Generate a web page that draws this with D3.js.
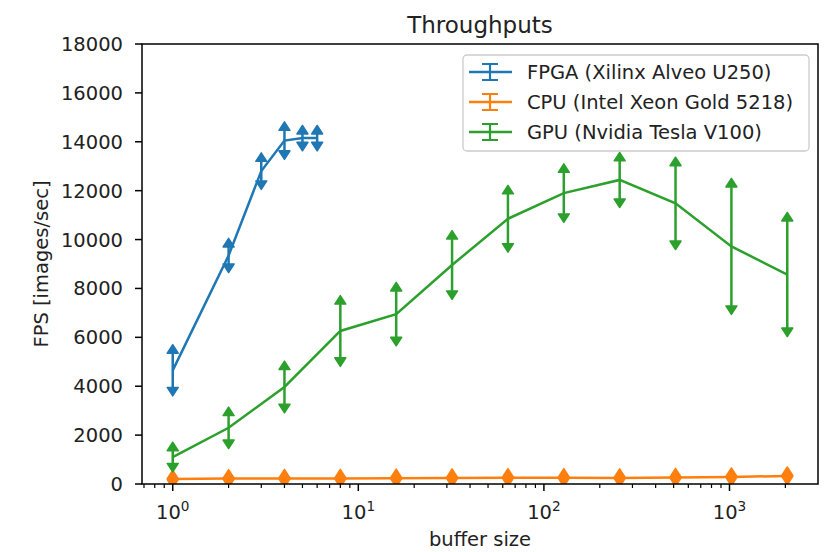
<!DOCTYPE html>
<html>
<head>
<meta charset="utf-8">
<script src="https://cdn.jsdelivr.net/npm/d3@7"></script>
<style>
body { margin: 0; background: #fff; }
svg { font-family: "DejaVu Sans", sans-serif; }
</style>
</head>
<body>
<svg id="chart" width="824" height="552"></svg>
<script>
// values
var fpgaX = [1, 2, 3, 4, 5, 6];
var fpgaY = [4650, 9350, 12800, 14050, 14150, 14150];
var fpgaErr = [700, 350, 400, 420, 170, 170];

var bufX = [1, 2, 4, 8, 16, 32, 64, 128, 256, 512, 1024, 2048];
var cpuY = [200, 220, 230, 230, 240, 250, 260, 260, 250, 270, 290, 330];
var cpuErr = [20, 20, 20, 20, 20, 20, 20, 20, 20, 20, 20, 20];
var gpuY = [1100, 2300, 3970, 6260, 6950, 8960, 10850, 11900, 12440, 11480, 9720, 8570];
var gpuErr = [260, 500, 710, 1100, 950, 1060, 1020, 850, 780, 1540, 2435, 2190];

var yTicks = [0, 2000, 4000, 6000, 8000, 10000, 12000, 14000, 16000, 18000];
var xTicks = [1, 10, 100, 1000];
var xTickExp = ["0", "1", "2", "3"];
var seriesNames = ["FPGA (Xilinx Alveo U250)", "CPU (Intel Xeon Gold 5218)", "GPU (Nvidia Tesla V100)"];
var seriesColors = ["#1f77b4", "#ff7f0e", "#2ca02c"];

var margin = {top: 44, left: 142, right: 6, bottom: 68};
var width = 824 - margin.left - margin.right, height = 552 - margin.top - margin.bottom;
var fs = 19.5;

var svg = d3.select("#chart");
var g = svg.append("g").attr("transform", "translate(" + margin.left + "," + margin.top + ")");

// matplotlib-like 5% margins in log space
var lo = Math.log10(1), hi = Math.log10(2048), pad = (hi - lo) * 0.05;
var x = d3.scaleLog().domain([Math.pow(10, lo - pad), Math.pow(10, hi + pad)]).range([0, width]);
var y = d3.scaleLinear().domain([0, 18000]).range([height, 0]);

g.append("clipPath").attr("id", "clip")
	.append("rect").attr("width", width).attr("height", height);

var series = [
	{xs: fpgaX, ys: fpgaY, err: fpgaErr},
	{xs: bufX, ys: cpuY, err: cpuErr},
	{xs: bufX, ys: gpuY, err: gpuErr}
];

var plot = g.append("g").attr("clip-path", "url(#clip)");
var line = d3.line().x(function(d){ return x(d.x); }).y(function(d){ return y(d.y); });
var cw = 5.5, ch = 8.5;

series.forEach(function(s, i){
	var pts = s.xs.map(function(v, j){ return {x: v, y: s.ys[j], e: s.err[j]}; });
	var col = seriesColors[i];
	var sg = plot.append("g");
	sg.append("path").datum(pts)
		.attr("d", line)
		.attr("fill", "none")
		.attr("stroke", col)
		.attr("stroke-width", 2.5);
	sg.selectAll("line.bar").data(pts).enter().append("line")
		.attr("class", "bar")
		.attr("x1", function(d){ return x(d.x); })
		.attr("x2", function(d){ return x(d.x); })
		.attr("y1", function(d){ return y(d.y + d.e); })
		.attr("y2", function(d){ return y(d.y - d.e); })
		.attr("stroke", col)
		.attr("stroke-width", 2.5);
	// up caret at the top end, down caret at the bottom end
	sg.selectAll("path.up").data(pts).enter().append("path")
		.attr("class", "up")
		.attr("d", function(d){
			var px = x(d.x), py = y(d.y + d.e);
			return "M" + (px - cw) + "," + py + "L" + px + "," + (py - ch) + "L" + (px + cw) + "," + py + "Z";
		})
		.attr("fill", col).attr("stroke", col).attr("stroke-width", 1.5).attr("stroke-linejoin", "round");
	sg.selectAll("path.down").data(pts).enter().append("path")
		.attr("class", "down")
		.attr("d", function(d){
			var px = x(d.x), py = y(d.y - d.e);
			return "M" + (px - cw) + "," + py + "L" + px + "," + (py + ch) + "L" + (px + cw) + "," + py + "Z";
		})
		.attr("fill", col).attr("stroke", col).attr("stroke-width", 1.5).attr("stroke-linejoin", "round");
});

// y axis
var yAxis = g.append("g");
yAxis.selectAll("line").data(yTicks).enter().append("line")
	.attr("x1", -7).attr("x2", 0)
	.attr("y1", function(d){ return y(d); }).attr("y2", function(d){ return y(d); })
	.attr("stroke", "#000").attr("stroke-width", 1.5);
yAxis.selectAll("text").data(yTicks).enter().append("text")
	.attr("x", -19).attr("y", function(d){ return y(d); })
	.attr("dy", "0.36em")
	.attr("text-anchor", "end")
	.attr("font-size", fs)
	.attr("fill", "#222")
	.text(function(d){ return d; });

// x axis: decades plus minor ticks
var minor = [];
for (var e = -1; e <= 3; e++) {
	for (var m = 2; m <= 9; m++) {
		var v = m * Math.pow(10, e);
		if (v >= x.domain()[0] && v <= x.domain()[1]) minor.push(v);
	}
}
var xAxis = g.append("g").attr("transform", "translate(0," + height + ")");
xAxis.selectAll("line.minor").data(minor).enter().append("line")
	.attr("class", "minor")
	.attr("x1", function(d){ return x(d); }).attr("x2", function(d){ return x(d); })
	.attr("y1", 0).attr("y2", 4)
	.attr("stroke", "#000").attr("stroke-width", 1.2);
xAxis.selectAll("line.major").data(xTicks).enter().append("line")
	.attr("class", "major")
	.attr("x1", function(d){ return x(d); }).attr("x2", function(d){ return x(d); })
	.attr("y1", 0).attr("y2", 7)
	.attr("stroke", "#000").attr("stroke-width", 1.5);
var xl = xAxis.selectAll("text").data(xTicks).enter().append("text")
	.attr("x", function(d){ return x(d); })
	.attr("y", 35)
	.attr("text-anchor", "middle")
	.attr("font-size", fs)
	.attr("fill", "#222");
xl.append("tspan").text("10");
xl.append("tspan").attr("dy", -8).attr("font-size", fs * 0.7).text(function(d, i){ return xTickExp[i]; });

// frame
g.append("rect").attr("width", width).attr("height", height)
	.attr("fill", "none").attr("stroke", "#000").attr("stroke-width", 1.5);

// labels
g.append("text").attr("x", width / 2).attr("y", -11)
	.attr("text-anchor", "middle").attr("font-size", 23).attr("fill", "#222")
	.text("Throughputs");
g.append("text").attr("x", width / 2).attr("y", height + 62)
	.attr("text-anchor", "middle").attr("font-size", fs).attr("fill", "#222")
	.text("buffer size");
svg.append("text")
	.attr("transform", "translate(41," + (margin.top + height / 2) + ") rotate(-90)")
	.attr("dy", "0.35em")
	.attr("text-anchor", "middle").attr("font-size", fs).attr("fill", "#222")
	.text("FPS [images/sec]");

// legend
var lg = svg.append("g").attr("transform", "translate(463,55)");
lg.append("rect").attr("width", 346).attr("height", 96).attr("rx", 4)
	.attr("fill", "#fff").attr("fill-opacity", 0.8)
	.attr("stroke", "#ccc").attr("stroke-width", 1.3);
var rows = lg.selectAll("g.row").data(seriesNames).enter().append("g")
	.attr("class", "row")
	.attr("transform", function(d, i){ return "translate(0," + (17 + i * 30) + ")"; });
rows.append("line").attr("x1", 6).attr("x2", 49).attr("y1", 0).attr("y2", 0)
	.attr("stroke", function(d, i){ return seriesColors[i]; }).attr("stroke-width", 2.5);
rows.append("line").attr("x1", 27).attr("x2", 27).attr("y1", -8).attr("y2", 8)
	.attr("stroke", function(d, i){ return seriesColors[i]; }).attr("stroke-width", 2.2);
rows.append("line").attr("x1", 19).attr("x2", 35).attr("y1", -8).attr("y2", -8)
	.attr("stroke", function(d, i){ return seriesColors[i]; }).attr("stroke-width", 2);
rows.append("line").attr("x1", 19).attr("x2", 35).attr("y1", 8).attr("y2", 8)
	.attr("stroke", function(d, i){ return seriesColors[i]; }).attr("stroke-width", 2);
rows.append("text").attr("x", 64).attr("dy", "0.36em")
	.attr("font-size", fs).attr("fill", "#222")
	.text(function(d){ return d; });
</script>
</body>
</html>
